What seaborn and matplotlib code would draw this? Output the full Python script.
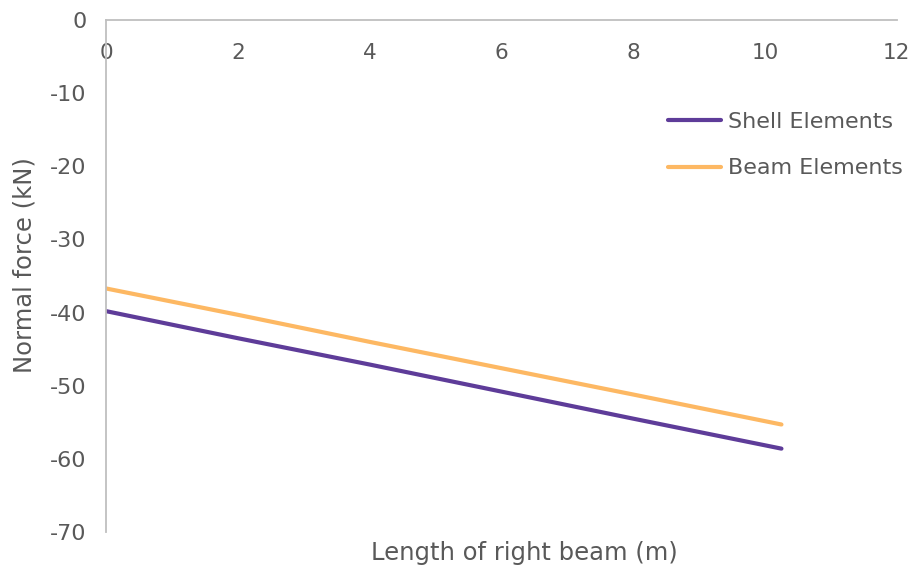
import pandas as pd
import seaborn as sns
import matplotlib.pyplot as plt

# Values
length_m = [0, 2, 4, 6, 8, 10.25]
shell_force = [-39.8, -43.5, -47.1, -50.8, -54.5, -58.6]
beam_force = [-36.7, -40.3, -44.0, -47.6, -51.2, -55.3]
series_names = ['Shell Elements', 'Beam Elements']
x_ticks = [0, 2, 4, 6, 8, 10, 12]
y_ticks = [0, -10, -20, -30, -40, -50, -60, -70]

df = pd.concat([
    pd.DataFrame({'Length': length_m, 'Force': shell_force, 'Series': series_names[0]}),
    pd.DataFrame({'Length': length_m, 'Force': beam_force, 'Series': series_names[1]}),
])

sns.set_style('white')
plt.rcParams['font.family'] = ['DejaVu Sans']
text_col = '#595959'
axis_col = '#BFBFBF'

fig = plt.figure(figsize=(9.16, 5.72), dpi=100)
ax = fig.add_axes([0.1157, 0.0699, 0.979 - 0.1157, 0.965 - 0.0699])

sns.lineplot(data=df, x='Length', y='Force', hue='Series',
             palette={'Shell Elements': '#5E3C99', 'Beam Elements': '#FDB863'},
             linewidth=3, ax=ax)

ax.set_xlim(0, 12)
ax.set_ylim(-70, 0)
ax.set_xticks(x_ticks)
ax.set_yticks(y_ticks)
ax.set_yticklabels([str(v) for v in y_ticks])

for s in ['right', 'bottom']:
    ax.spines[s].set_visible(False)
for s in ['left', 'top']:
    ax.spines[s].set_color(axis_col)
    ax.spines[s].set_linewidth(1.3)

ax.xaxis.set_ticks_position('top')
ax.tick_params(axis='x', top=True, labeltop=True, bottom=False, labelbottom=False,
               length=0, pad=-31, labelsize=15.5, labelcolor=text_col)
ax.tick_params(axis='y', length=0, pad=14, labelsize=16, labelcolor=text_col)

ax.set_xlabel('')
ax.set_ylabel('')
fig.text(0.572, 0.033, 'Length of right beam (m)', ha='center', va='center',
         fontsize=17.5, color=text_col)
fig.text(0.027, 0.537, 'Normal force (kN)', ha='center', va='center',
         rotation=90, fontsize=17.5, color=text_col)

leg = ax.legend(loc='upper left', bbox_to_anchor=(0.685, 0.86), frameon=False,
                fontsize=16, handlelength=2.4, handletextpad=0.3, labelspacing=1.2)
for t in leg.get_texts():
    t.set_color(text_col)

fig.savefig('out.png', dpi=100)
